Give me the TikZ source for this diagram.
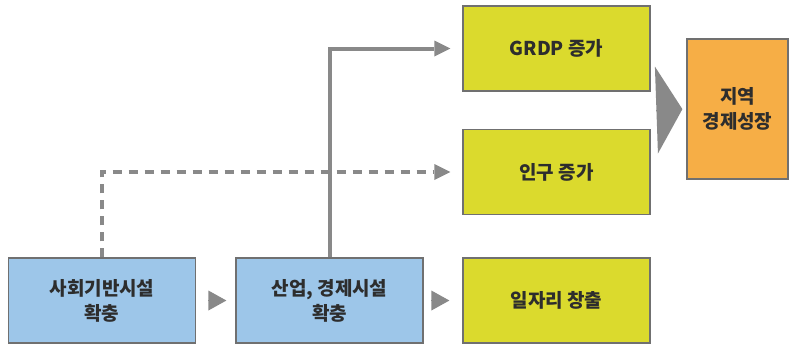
\documentclass[tikz,border=0pt]{standalone}
\usepackage{fontspec}
\newfontfamily\krfont{Noto Sans CJK KR}
\usetikzlibrary{arrows.meta,calc}

\definecolor{boxblue}{RGB}{157,198,233}
\definecolor{boxyellow}{RGB}{219,218,45}
\definecolor{boxorange}{RGB}{246,174,70}
\definecolor{boxline}{RGB}{112,112,112}
\definecolor{linkgray}{RGB}{137,137,137}
\definecolor{textgray}{RGB}{45,45,45}

\begin{document}
\begin{tikzpicture} [x = 1pt, y = -1pt,
		box/.style = {draw = boxline,
			line width = 1.2pt,
			minimum width = 187pt,
			minimum height = 85pt,
			inner sep = 0pt,
			align = center,
			text = textgray,
			font = \krfont\bfseries\fontsize{19}{25}\selectfont},
		link/.style = {draw = linkgray,
			line width = 4pt,
			-{Triangle[length = 16pt, width = 16pt, line width = 0pt]},
			shorten > = 12pt},
		pointer/.style = {draw = linkgray, fill = linkgray,
			line width = 0pt,
			-{Triangle[length = 18pt, width = 20pt, line width = 0pt]}}]

	\useasboundingbox (0,0) rectangle (792,343);

	\node (infra) at (102,300.5) [box, fill = boxblue] {사회기반시설\\확충};
	\node (industry) at (329.5,300.5) [box, fill = boxblue] {산업, 경제시설\\확충};

	\node (grdp) at (556.5,48.5) [box, fill = boxyellow] {GRDP 증가};
	\node (pop) at (556.5,172) [box, fill = boxyellow] {인구 증가};
	\node (jobs) at (556.5,300.5) [box, fill = boxyellow] {일자리 창출};

	\node (growth) at (737.5,109) [box, fill = boxorange,
		minimum width = 101pt, minimum height = 140pt] {지역\\경제성장};

	\draw [link, dash pattern = on 9pt off 7pt] (infra.north) -- (infra.north |- pop.west) -- (pop.west);
	\draw [link] (industry.north) -- (industry.north |- grdp.west) -- (grdp.west);

	\draw [pointer, shorten < = 13pt, shorten > = 9pt] (infra.east) -- (industry.west);
	\draw [pointer, shorten < = 13pt, shorten > = 13pt] (industry.east) -- (jobs.west);

	\coordinate (yellowright) at ($(grdp.east)!0.5!(pop.east)$);
	\draw [draw = linkgray, line width = 0pt,
		-{Triangle[length = 26pt, width = 87pt, line width = 0pt]},
		shorten < = 7pt, shorten > = 4pt] (yellowright) -- (growth.west);

\end{tikzpicture}
\end{document}
